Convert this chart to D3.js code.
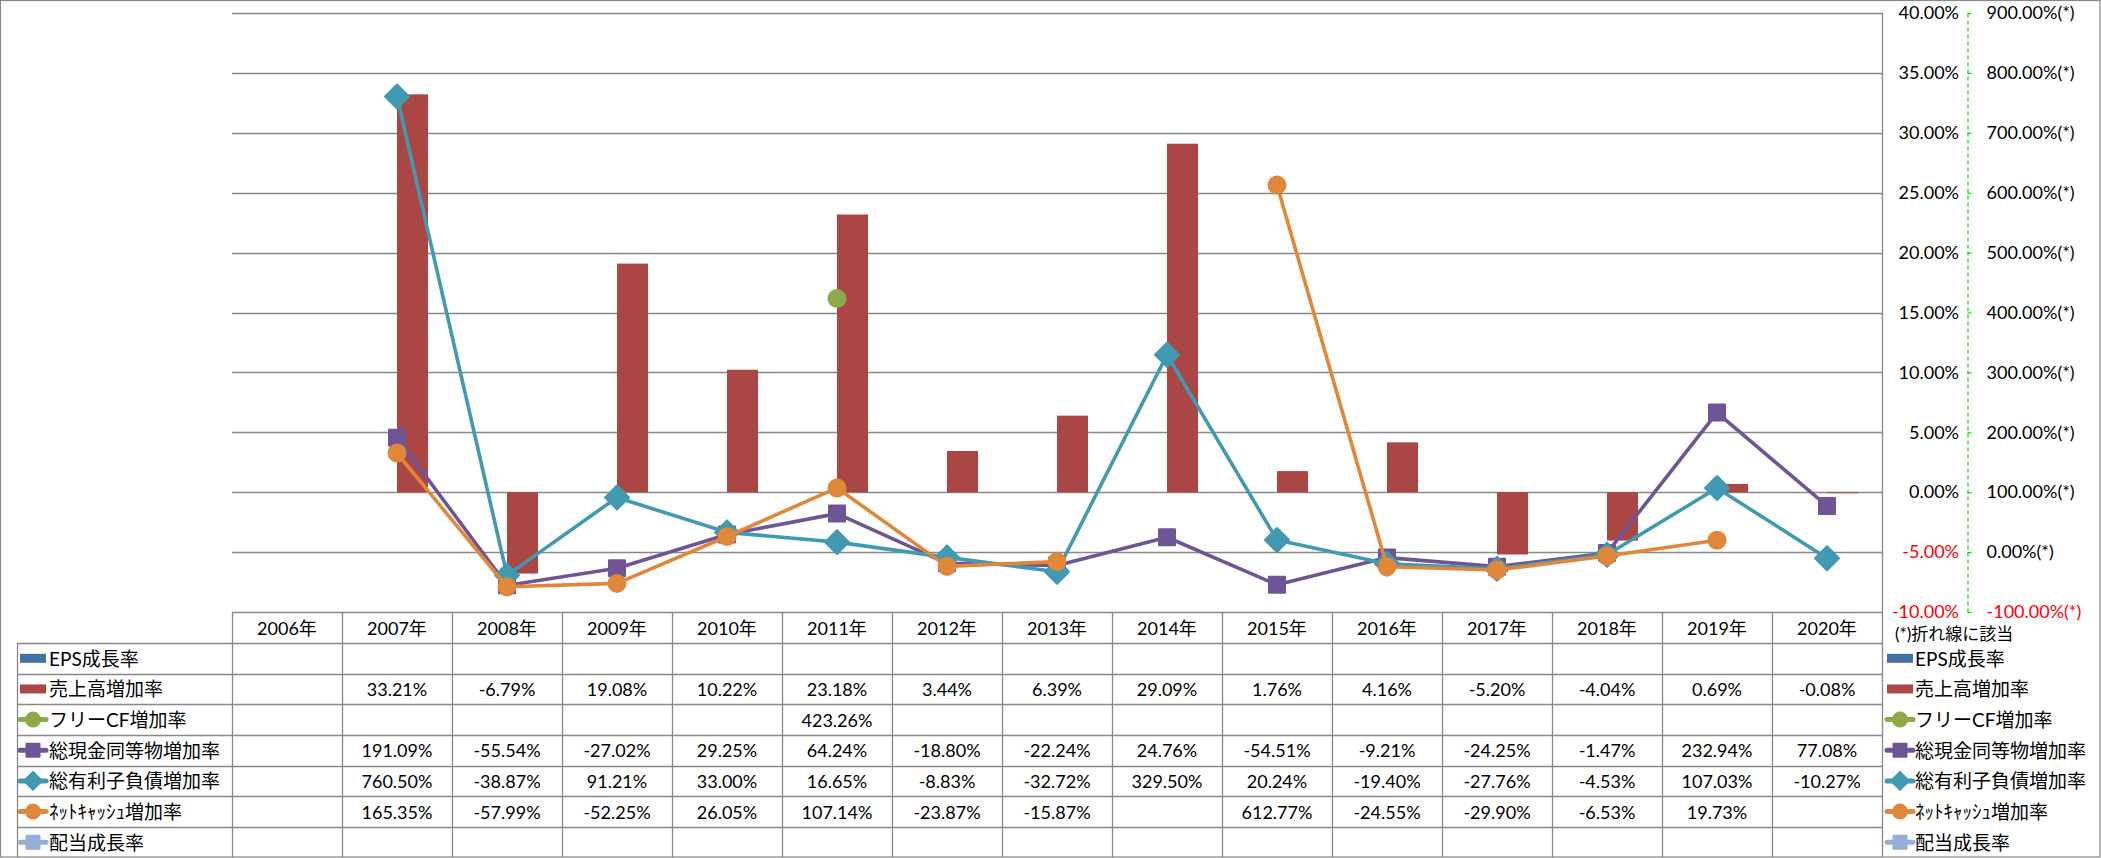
<!DOCTYPE html>
<html><head><meta charset="utf-8">
<script src="https://cdn.jsdelivr.net/npm/d3@7"></script>
<style>
html,body{margin:0;padding:0;background:#fff;}
svg text{font-family:"Lato","Noto Sans CJK JP",sans-serif;fill:#000;}
</style></head>
<body><svg id="c" width="2101" height="858"></svg>
<script>
const years = ["2006年","2007年","2008年","2009年","2010年","2011年","2012年","2013年","2014年","2015年","2016年","2017年","2018年","2019年","2020年"];
const epsGrowth      = [null,null,null,null,null,null,null,null,null,null,null,null,null,null,null];
const salesGrowth    = [null,33.21,-6.79,19.08,10.22,23.18,3.44,6.39,29.09,1.76,4.16,-5.20,-4.04,0.69,-0.08];
const freeCFGrowth   = [null,null,null,null,null,423.26,null,null,null,null,null,null,null,null,null];
const cashGrowth     = [null,191.09,-55.54,-27.02,29.25,64.24,-18.80,-22.24,24.76,-54.51,-9.21,-24.25,-1.47,232.94,77.08];
const debtGrowth     = [null,760.50,-38.87,91.21,33.00,16.65,-8.83,-32.72,329.50,20.24,-19.40,-27.76,-4.53,107.03,-10.27];
const netCashGrowth  = [null,165.35,-57.99,-52.25,26.05,107.14,-23.87,-15.87,null,612.77,-24.55,-29.90,-6.53,19.73,null];
const dividendGrowth = [null,null,null,null,null,null,null,null,null,null,null,null,null,null,null];
const leftTicks  = [40,35,30,25,20,15,10,5,0,-5,-10];
const rightTicks = [900,800,700,600,500,400,300,200,100,0,-100];
const seriesNames = ["EPS成長率","売上高増加率","フリーCF増加率","総現金同等物増加率","総有利子負債増加率","ﾈｯﾄｷｬｯｼｭ増加率","配当成長率"];

const series = [
  {name:seriesNames[0], values:epsGrowth,      type:"bar",  color:"#4471A6"},
  {name:seriesNames[1], values:salesGrowth,    type:"bar",  color:"#AA4643"},
  {name:seriesNames[2], values:freeCFGrowth,   type:"line", color:"#8DAA4A", marker:"circle"},
  {name:seriesNames[3], values:cashGrowth,     type:"line", color:"#6F5596", marker:"square"},
  {name:seriesNames[4], values:debtGrowth,     type:"line", color:"#4199B2", marker:"diamond"},
  {name:seriesNames[5], values:netCashGrowth,  type:"line", color:"#E1873A", marker:"circle"},
  {name:seriesNames[6], values:dividendGrowth, type:"line", color:"#95B0D6", marker:"square"}
];

const svg = d3.select("#c");
const X0 = 232, X1 = 1882, YT = 13, YB = 612;
const x = d3.scaleBand().domain(years).range([X0, X1]).padding(0);
const bw = x.bandwidth();
const xi = d3.scaleBand().domain(["EPS","sales"]).range([bw/2 - 31, bw/2 + 31]).padding(0);
const yL = d3.scaleLinear().domain([-10, 40]).range([YB, YT]);
const yR = d3.scaleLinear().domain([-100, 900]).range([YB, YT]);
const grid = "#898989";

// outer frame
svg.append("rect").attr("x",0.5).attr("y",0.5).attr("width",2099.5).attr("height",856.5)
  .attr("fill","none").attr("stroke",grid).attr("stroke-width",1.2);

// gridlines
svg.append("g").selectAll("line").data(leftTicks).join("line")
  .attr("x1",X0).attr("x2",X1).attr("y1",d=>Math.round(yL(d))+0.5).attr("y2",d=>Math.round(yL(d))+0.5)
  .attr("stroke",grid).attr("stroke-width",1.3);

// bars
const barSeries = series.filter(s=>s.type==="bar");
barSeries.forEach((s,si)=>{
  svg.append("g").selectAll("rect").data(s.values.map((v,i)=>({v,i})).filter(d=>d.v!=null)).join("rect")
    .attr("x",d=>x(years[d.i]) + xi(si===0?"EPS":"sales"))
    .attr("width",xi.bandwidth())
    .attr("y",d=>yL(Math.max(0,d.v)))
    .attr("height",d=>Math.max(1,Math.abs(yL(d.v)-yL(0))))
    .attr("fill",s.color);
});

function markerPath(type, size){
  if(type==="square"){ const h=size/2; return `M${-h},${-h}H${h}V${h}H${-h}Z`; }
  if(type==="diamond"){ const h=size/2; return `M0,${-h}L${h},0L0,${h}L${-h},0Z`; }
  return d3.symbol().type(d3.symbolCircle).size(Math.PI*(size/2)*(size/2))();
}
const markerSize = {circle:17, square:16, diamond:24};

// lines
const cx = i => x(years[i]) + bw/2;
series.filter(s=>s.type==="line").forEach(s=>{
  const pts = s.values.map((v,i)=>({v,i}));
  const line = d3.line().defined(d=>d.v!=null).x(d=>cx(d.i)).y(d=>yR(d.v));
  const g = svg.append("g");
  g.append("path").attr("d",line(pts)).attr("fill","none").attr("stroke",s.color)
    .attr("stroke-width",3.6).attr("stroke-linejoin","round");
  g.selectAll("path.m").data(pts.filter(d=>d.v!=null)).join("path").attr("class","m")
    .attr("transform",d=>`translate(${cx(d.i)},${yR(d.v)})`)
    .attr("d",markerPath(s.marker, markerSize[s.marker]))
    .attr("fill",s.color).attr("stroke",s.color).attr("stroke-width",2).attr("stroke-linejoin","round");
});

// axes on right
const axisX = 1967;
const leftAx = svg.append("g").attr("transform",`translate(${axisX},0)`)
  .call(d3.axisLeft(yL).tickValues(leftTicks).tickSize(0).tickPadding(8).tickFormat(d=>d.toFixed(2)+"%"));
leftAx.select(".domain").remove();
leftAx.selectAll("text").style("font-size","18px").style("fill",d=>d<0?"#FF0000":"#000");

const rightAx = svg.append("g").attr("transform",`translate(${axisX+0.5},0)`)
  .call(d3.axisRight(yR).tickValues(rightTicks).tickSizeInner(4).tickSizeOuter(0).tickPadding(15).tickFormat(d=>d.toFixed(2)+"%(*)"));
rightAx.select(".domain").attr("stroke","#00DD00").attr("stroke-dasharray","4,3").attr("stroke-width",1.2);
rightAx.selectAll(".tick line").attr("stroke","#00DD00").attr("stroke-width",1.2);
rightAx.selectAll("text").style("font-size","18px").style("fill",d=>d<0?"#FF0000":"#000");

// data table
const HT = 612, HB = 643, rowH = (857.5-643)/7, LX = 17;
const tbl = svg.append("g");
const tLine = (x1,y1,x2,y2)=>tbl.append("line").attr("x1",x1).attr("y1",y1).attr("x2",x2).attr("y2",y2)
  .attr("stroke",grid).attr("stroke-width",1.3);
// column lines
years.forEach((yr,i)=>tLine(Math.round(x(yr))+0.5, HT, Math.round(x(yr))+0.5, 857.5));
tLine(X1+0.5, YT, X1+0.5, 857.5);
tLine(LX+0.5, HB, LX+0.5, 857.5);
// row lines
tLine(LX, Math.round(HB)+0.5, X1, Math.round(HB)+0.5);
for(let r=1;r<=7;r++){ const yy=Math.round(HB+r*rowH)+0.5; tLine(LX, yy, X1, yy); }
// headers
tbl.selectAll("text.h").data(years).join("text").attr("class","h")
  .attr("x",d=>x(d)+bw/2).attr("y",(HT+HB)/2).attr("text-anchor","middle").attr("dominant-baseline","central")
  .style("font-size","18px").text(d=>d);

function swatch(g, s, x0, yc, w){
  if(s.type==="bar"){
    g.append("rect").attr("x",x0).attr("y",yc-4.5).attr("width",w).attr("height",9).attr("fill",s.color);
  } else {
    g.append("line").attr("x1",x0).attr("x2",x0+w).attr("y1",yc).attr("y2",yc)
      .attr("stroke",s.color).attr("stroke-width",5).attr("stroke-linecap","round");
    const ms = {circle:14, square:13, diamond:18}[s.marker];
    g.append("path").attr("transform",`translate(${x0+w/2},${yc})`).attr("d",markerPath(s.marker,ms))
      .attr("fill",s.color).attr("stroke",s.color).attr("stroke-width",2).attr("stroke-linejoin","round");
  }
}

series.forEach((s,r)=>{
  const yc = HB + r*rowH + rowH/2;
  const g = tbl.append("g");
  swatch(g, s, 20, yc, 26);
  g.append("text").attr("x",49).attr("y",yc).attr("dominant-baseline","central").style("font-size","19px").text(s.name);
  g.selectAll("text.v").data(s.values.map((v,i)=>({v,i})).filter(d=>d.v!=null)).join("text").attr("class","v")
    .attr("x",d=>cx(d.i)).attr("y",yc).attr("text-anchor","middle").attr("dominant-baseline","central")
    .style("font-size","18px").text(d=>d.v.toFixed(2)+"%");
  // right legend
  const lg = svg.append("g");
  swatch(lg, s, 1887, yc, 26);
  lg.append("text").attr("x",1915).attr("y",yc).attr("dominant-baseline","central").style("font-size","19px").text(s.name);
});

svg.append("text").attr("x",1895).attr("y",633).attr("dominant-baseline","central").style("font-size","17px").text("(*)折れ線に該当");
</script></body></html>
